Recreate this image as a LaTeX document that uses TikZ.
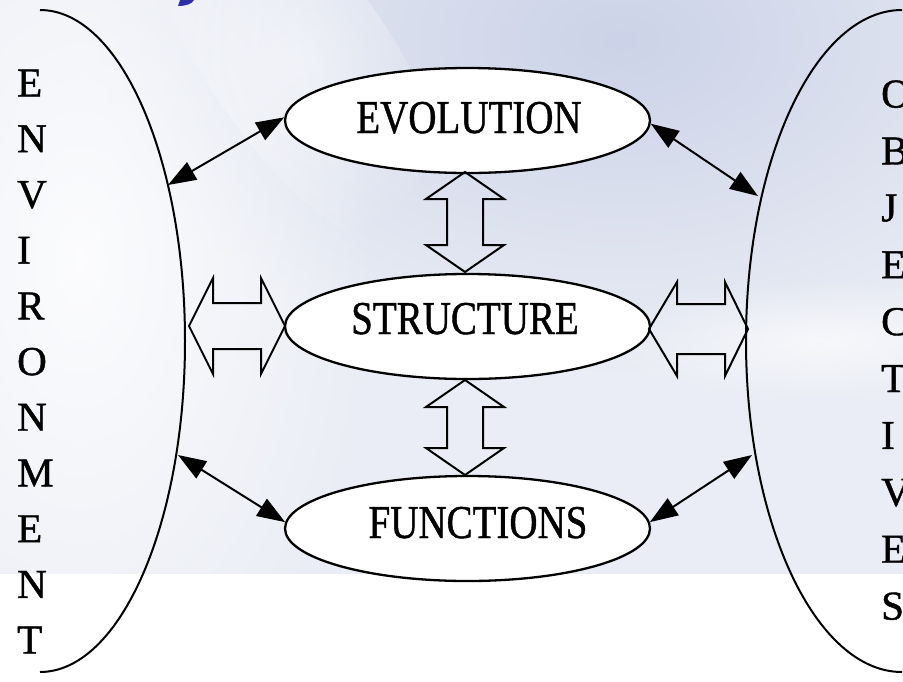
\documentclass[tikz,border=0pt]{standalone}
\usepackage{fontspec}
\setmainfont{Liberation Serif}
\newfontfamily\heavyserif[FakeBold=1]{Liberation Serif}
\usetikzlibrary{arrows.meta,calc,shapes.geometric,fadings}
\definecolor{bgbase}{HTML}{EAEDF5}
\definecolor{bgblue}{HTML}{CCD3E8}
\definecolor{titleblue}{HTML}{2E2EA8}
\tikzfading[name=softspot, inner color=transparent!0, outer color=transparent!100]
\begin{document}
\begin{tikzpicture}[x=1pt,y=-1pt,
  bubble/.style={draw=black, line width=2.3pt, fill=white, ellipse, minimum width=365pt, minimum height=105pt, inner sep=0pt},
  bubtext/.style={anchor=base, font=\heavyserif\fontsize{47}{47}\selectfont, inner sep=0pt},
  colletter/.style={anchor=base west, font=\heavyserif\fontsize{41}{41}\selectfont, inner sep=0pt},
  thinarrow/.style={line width=2pt, {Triangle[length=28pt,width=20pt]}-{Triangle[length=28pt,width=20pt]}},
  blockarrow/.style={draw=black, line width=2pt, line join=miter},
  side/.style={line width=2pt}]
\useasboundingbox (0,0) rectangle (903,681);
% background
\fill[white] (0,0) rectangle (903,681);
\begin{scope}
\clip (0,0) rectangle (903,574);
\fill[bgbase] (0,0) rectangle (903,574);
\fill[bgblue, path fading=softspot] (620,40) ellipse [x radius=520, y radius=330];
\fill[white, opacity=0.85, path fading=softspot] (80,260) ellipse [x radius=300, y radius=520];
\fill[white, opacity=0.5, path fading=softspot, rotate around={35:(300,60)}] (300,60) ellipse [x radius=90, y radius=230];
\fill[white, opacity=0.6, path fading=softspot] (820,340) ellipse [x radius=220, y radius=60];
\end{scope}
% title fragment
\fill[titleblue] (180,0) -- (194,0) .. controls (192,4) and (186,6) .. (178,6) -- cycle;
% side curves
\draw[side] (40,10) arc[start angle=-90, end angle=90, x radius=145, y radius=331];
\draw[side] (902,10) arc[start angle=-90, end angle=-270, x radius=156, y radius=331];
\coordinate (lt) at (168,185);
\coordinate (lb) at (178,455);
\coordinate (rt) at (758,196);
\coordinate (rb) at (752,455);
% column letters
\foreach \l [count=\i from 0] in {E,N,V,I,R,O,N,M,E,N,T}
  \node[colletter] (envl\i) at (17,{96.5+55.7*\i}) {\l};
\foreach \l [count=\i from 0] in {O,B,J,E,C,T,I,V,E,S}
  \node[colletter] (objl\i) at (881,{107.5+56.9*\i}) {\l};
% ellipses
\node[bubble] (evo) at (467.5,120.5) {};
\node[bubble] (str) at (467.5,326.5) {};
\node[bubble] (fun) at (467.5,528.5) {};
\node[bubtext] (evot) at (469,133) {\scalebox{0.83}[1]{EVOLUTION}};
\node[bubtext] (strt) at (465,334) {\scalebox{0.83}[1]{STRUCTURE}};
\node[bubtext] (funt) at (478,538) {\scalebox{0.83}[1]{FUNCTIONS}};
% thin arrows
\draw[thinarrow] (lt) -- (evo.179);
\draw[thinarrow] (evo.-1.5) -- (rt);
\draw[thinarrow] (lb) -- (fun.178);
\draw[thinarrow] (fun.2) -- (rb);
% block arrows vertical
\draw[blockarrow] (465,172) -- (504,199) -- (483,199) -- (483,245) -- (504,245) -- (465,272)
  -- (426,245) -- (447,245) -- (447,199) -- (426,199) -- cycle;
\draw[blockarrow] (465,380) -- (504,407) -- (483,407) -- (483,448) -- (504,448) -- (465,475)
  -- (426,448) -- (447,448) -- (447,407) -- (426,407) -- cycle;
% block arrows horizontal
\draw[blockarrow] (189,326) -- (213,278) -- (213,303) -- (261,303) -- (261,278) -- (285,326)
  -- (261,374) -- (261,349) -- (213,349) -- (213,374) -- cycle;
\draw[blockarrow] (649,329) -- (677,282) -- (677,304) -- (725,304) -- (725,282) -- (748,329)
  -- (725,376) -- (725,354) -- (677,354) -- (677,376) -- cycle;
\end{tikzpicture}
\end{document}
